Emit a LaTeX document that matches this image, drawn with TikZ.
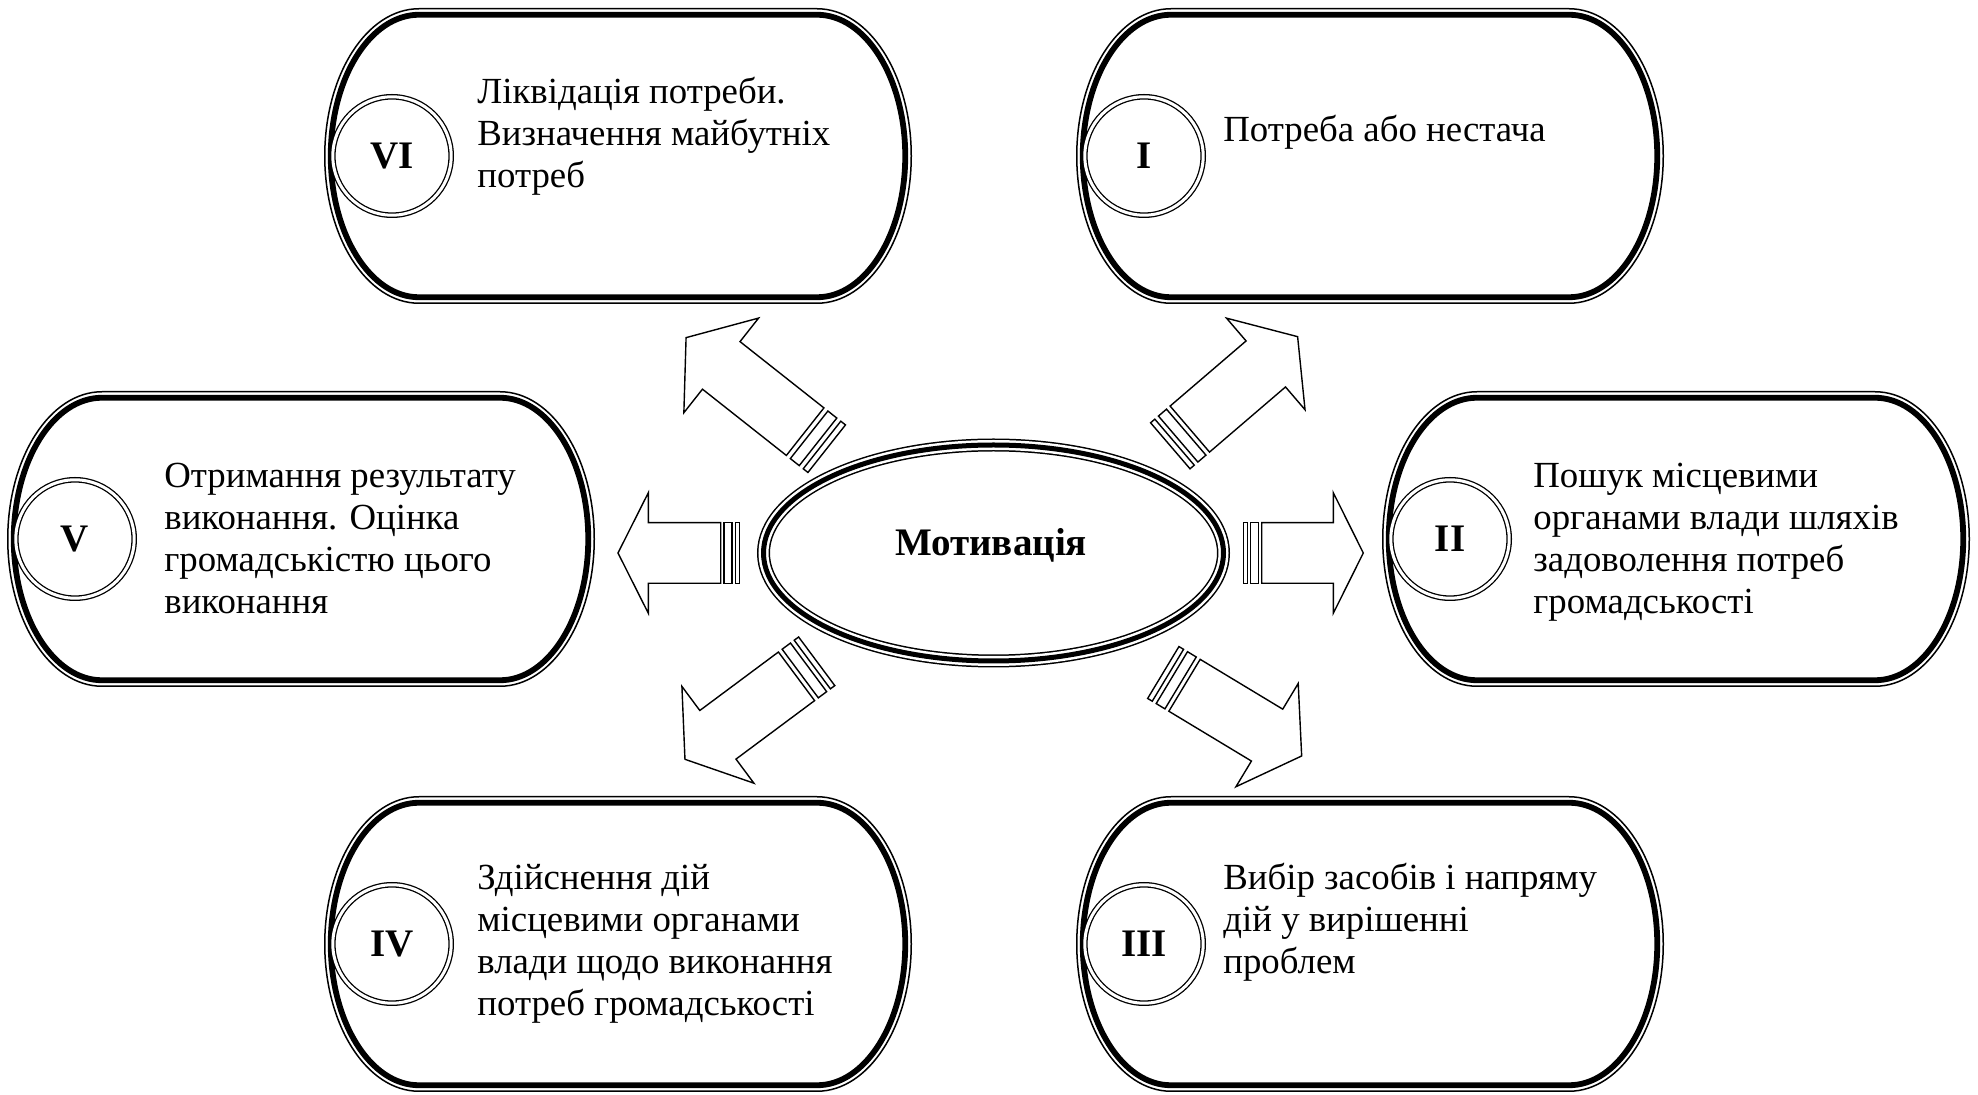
\documentclass[tikz,border=0pt]{standalone}
\usepackage{fontspec}
\setmainfont{Liberation Serif}
\newcommand{\tdraw}[4]{\draw[#1] (-#2+#4,#3) -- (#2-#4,#3) arc[start angle=90,end angle=-90,x radius=#4,y radius=#3] -- (-#2+#4,-#3) arc[start angle=270,end angle=90,x radius=#4,y radius=#3] -- cycle;}
\newcommand{\tbox}[2]{%
  \begin{scope}[shift={(#1,-#2)}]
    \tdraw{fill=white,draw=none}{294}{148}{95}
    \tdraw{thinl}{293.25}{147.25}{94.25}
    \tdraw{thickl}{287.25}{141.25}{88.25}
  \end{scope}}
\newcommand{\sarrow}[4]{%
  \begin{scope}[shift={(#1,-#2)}, rotate=#3]
    \draw[arr] (0,-30.3) rectangle ({0.0333*#4},30.3);
    \draw[arr] ({0.0617*#4},-30.3) rectangle ({0.125*#4},30.3);
    \draw[arr] ({0.1533*#4},-30.3) -- ({0.75*#4},-30.3) -- ({0.75*#4},-60.3) -- (#4,0) -- ({0.75*#4},60.3) -- ({0.75*#4},30.3) -- ({0.1533*#4},30.3) -- cycle;
  \end{scope}}
\tikzset{
  thinl/.style={draw=black,line width=0.75pt},
  thickl/.style={draw=black,line width=2.9pt},
  arr/.style={draw=black, fill=white, line width=0.7pt, line join=miter},
  txt/.style={anchor=base west, align=left, inner sep=0pt, font=\fontsize{18.4}{21}\selectfont},
  num/.style={circle, fill=white, draw=black, line width=0.65pt, double=white, double distance=1.5pt, minimum size=59.2pt, inner sep=0pt, font=\bfseries\fontsize{19.5}{22}\selectfont},
}
\begin{document}
\begin{tikzpicture}[x=0.5pt,y=0.5pt]
\useasboundingbox[fill=white] (0,0) rectangle (1978,-1095);
% boxes
\tbox{618}{156}
\tbox{1370}{156}
\tbox{301}{539}
\tbox{1676}{539}
\tbox{618}{944}
\tbox{1370}{944}
% number circles
\node[num] (n6) at (392,-156) {VI};
\node[num] (n1) at (1144,-156) {I};
\node[num] (n5) at (75,-539) {V};
\node[num] (n2) at (1450,-539) {II};
\node[num] (n4) at (392,-944) {IV};
\node[num] (n3) at (1144,-944) {III};
% texts (anchor = baseline of last line)
\node[txt] (t6) at (477,-188) {Ліквідація потреби.\\Визначення майбутніх\\потреб};
\node[txt] (t1) at (1223,-142) {Потреба або нестача};
\node[txt] (t5) at (164,-614) {Отримання результату\\виконання. Оцінка\\громадськістю цього\\виконання};
\node[txt] (t2) at (1533,-614) {Пошук місцевими\\органами влади шляхів\\задоволення потреб\\громадськості};
\node[txt] (t4) at (477,-1016) {Здійснення дій\\місцевими органами\\влади щодо виконання\\потреб громадськості};
\node[txt] (t3) at (1223,-974) {Вибір засобів і напряму\\дій у вирішенні\\проблем};
% arrows
\sarrow{1243.3}{553}{0}{120}
\sarrow{739.3}{553}{180}{121.3}
\sarrow{826.7}{448.7}{141.7}{179.2}
\sarrow{1170.3}{445.8}{40.6}{167.7}
\sarrow{816.7}{661.3}{216.65}{164.2}
\sarrow{1163.3}{672.5}{-31.1}{161.6}
% central ellipse
\fill[white] (993.5,-553) ellipse[x radius=236.5, y radius=114.5];
\draw[line width=6.5pt] (993.5,-553) ellipse[x radius=230, y radius=108];
\draw[white,line width=5pt] (993.5,-553) ellipse[x radius=230, y radius=108];
\draw[line width=2.5pt] (993.5,-553) ellipse[x radius=230, y radius=108];
\node[anchor=base, inner sep=0pt, font=\bfseries\fontsize{19.5}{22}\selectfont] (mot) at (991,-556) {Мотивація};
\end{tikzpicture}
\end{document}
